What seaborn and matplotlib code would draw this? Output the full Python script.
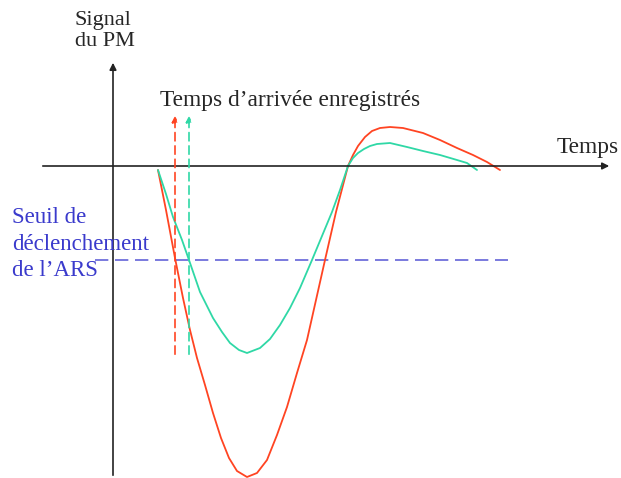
import numpy as np
import pandas as pd
import seaborn as sns
import matplotlib.pyplot as plt

# points (pixel coords, y downwards)
red_x = [158, 166, 175, 183, 190, 197, 205, 213, 221, 229, 237, 247, 257, 267, 277, 287, 297,
         307, 316, 325, 336, 348, 353, 358, 365, 372, 380, 390, 403, 423, 440, 457, 473, 487, 500]
red_y = [170, 210, 258, 298, 330, 358, 385, 413, 438, 458, 471, 477, 473, 460, 435, 407, 373,
         340, 300, 260, 212, 166, 155, 146, 137, 131, 128, 127, 128, 133, 140, 148, 155, 162, 170]

teal_x = [158, 166, 173, 182, 189, 200, 213, 222, 230, 239, 247, 260, 270, 280, 290, 300,
          312, 322, 332, 340, 348, 353, 358, 364, 370, 377, 390, 407, 423, 440, 457, 467, 477]
teal_y = [170, 194, 217, 240, 260, 292, 318, 332, 343, 350, 353, 348, 339, 325, 308, 288,
          260, 236, 212, 190, 166, 158, 153, 149, 146, 144, 143, 147, 151, 155, 160, 163, 170]

seuil_y = 260
seuil_x = [95, 508]
arrivee_x = [175, 189]
arrivee_y = [357, 113]

red = '#ff4422'
teal = '#2fd8a6'
blue = '#6464d8'

sns.set_style('white')
plt.rcParams['font.family'] = ['Liberation Serif', 'DejaVu Serif']

fig = plt.figure(figsize=(6.21, 4.78), dpi=100)
ax = fig.add_axes([0, 0, 1, 1])

# axes of the sketch
ax.annotate('', xy=(113, 60), xytext=(113, 478),
            arrowprops=dict(arrowstyle='-|>', color='#222222', lw=1.2, mutation_scale=10))
ax.annotate('', xy=(612, 166), xytext=(40, 166),
            arrowprops=dict(arrowstyle='-|>', color='#222222', lw=1.2, mutation_scale=10))

# threshold
sns.lineplot(x=seuil_x, y=[seuil_y, seuil_y], color=blue, lw=1.2, ax=ax,
             linestyle=(0, (8, 4)))

# signals
df_r = pd.DataFrame({'x': red_x, 'y': red_y})
df_t = pd.DataFrame({'x': teal_x, 'y': teal_y})
sns.lineplot(data=df_r, x='x', y='y', sort=False, color=red, lw=1.3, ax=ax)
sns.lineplot(data=df_t, x='x', y='y', sort=False, color=teal, lw=1.3, ax=ax)

# recorded arrival times
for xa, c in zip(arrivee_x, [red, teal]):
    ax.annotate('', xy=(xa, arrivee_y[1]), xytext=(xa, arrivee_y[0]),
                arrowprops=dict(arrowstyle='-|>', color=c, lw=1.2, linestyle=(0, (5, 3)),
                                mutation_scale=9))

ax.text(75, 31, 'Signal\ndu PM', fontsize=16, ha='left', va='center', linespacing=1.15)
ax.text(160, 100, 'Temps d\u2019arrivée enregistrés', fontsize=16.8, ha='left', va='center')
ax.text(557, 148, 'Temps', fontsize=16.8, ha='left', va='center')
ax.text(12, 244, 'Seuil de\ndéclenchement\nde l\u2019ARS', fontsize=16.5, ha='left', va='center',
        color='#3a3acc', linespacing=1.32)

ax.set_xlim(0, 621)
ax.set_ylim(478, 0)
ax.axis('off')
fig.savefig('out.png', dpi=100)
